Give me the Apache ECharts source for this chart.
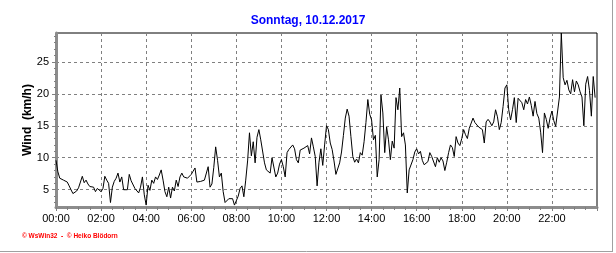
<!DOCTYPE html>
<html>
<head>
<meta charset="utf-8">
<script src="https://cdn.jsdelivr.net/npm/echarts@6/dist/echarts.min.js"></script>
<style>
html,body{margin:0;padding:0;background:#fff;}
#c{width:616px;height:253px;}
</style>
</head>
<body>
<div id="c"></div>
<script>
var titleText = 'Sonntag, 10.12.2017';
var yAxisName = 'Wind  (km/h)';
var footerText = '\u00A9 WsWin32  -  \u00A9 Heiko Blödorn';
var yTickLabels = [5, 10, 15, 20, 25];
var yMinorTicks = [3, 4, 6, 7, 8, 9, 11, 12, 13, 14, 16, 17, 18, 19, 21, 22, 23, 24, 26, 27, 28, 29];
var stepMinutes = 5;
// wind speed (km/h), one value every 5 minutes, hour by hour
var h00 = [9.6, 7.8, 6.8, 6.6, 6.5, 6.4, 6.2, 5.6, 5.0, 4.4, 4.3, 4.8];
var h01 = [5.3, 5.6, 7.1, 6.1, 6.5, 5.9, 5.5, 5.8, 5.4, 4.7, 5.2, 4.9];
var h02 = [4.7, 5.2, 7.1, 6.5, 6.0, 3.0, 5.4, 6.3, 6.8, 7.6, 6.2, 7.0];
var h03 = [5.0, 4.9, 5.0, 7.4, 6.4, 6.2, 5.2, 5.5, 4.5, 5.4, 7.0, 4.2];
var h04 = [2.6, 5.7, 4.9, 6.5, 6.0, 7.0, 6.6, 7.3, 8.1, 6.5, 4.7, 3.9];
var h05 = [5.4, 3.7, 5.4, 4.8, 6.5, 5.5, 7.0, 7.6, 7.0, 7.2, 6.8, 7.1];
var h06 = [7.4, 7.9, 8.4, 6.2, 6.5, 6.3, 6.0, 6.5, 6.2, 8.6, 5.4, 5.9];
var h07 = [8.5, 11.7, 9.6, 7.0, 7.6, 4.7, 3.0, 2.7, 3.6, 3.5, 3.6, 2.6];
var h08 = [2.3, 4.0, 5.2, 5.6, 3.9, 6.5, 9.5, 13.9, 10.3, 12.5, 9.2, 13.2];
var h09 = [14.4, 12.8, 12.5, 9.2, 8.1, 7.9, 7.6, 10.0, 10.2, 7.0, 7.6, 9.0];
var h10 = [9.7, 8.6, 7.0, 10.8, 11.3, 11.0, 12.0, 11.4, 9.7, 9.2, 11.2, 11.5];
var h11 = [11.5, 11.3, 11.9, 10.6, 13.1, 11.7, 10.2, 5.6, 9.3, 11.4, 8.8, 12.0];
var h12 = [15.0, 14.4, 12.3, 11.3, 9.5, 7.4, 7.6, 9.2, 10.9, 13.5, 16.2, 17.6];
var h13 = [16.5, 13.3, 10.2, 9.3, 9.8, 9.2, 10.8, 10.4, 12.5, 15.5, 19.1, 16.8];
var h14 = [15.9, 12.8, 13.5, 7.0, 9.7, 19.8, 17.0, 10.8, 14.8, 12.8, 9.7, 12.6];
var h15 = [11.5, 19.4, 17.5, 20.9, 13.3, 13.9, 12.0, 4.5, 8.1, 8.0, 9.7, 10.9];
var h16 = [11.4, 10.6, 11.0, 9.6, 8.9, 8.6, 9.4, 10.8, 10.2, 10.4, 8.6, 10.0];
var h17 = [9.3, 10.0, 9.5, 8.0, 9.3, 10.8, 12.0, 11.6, 10.2, 13.3, 12.3, 11.9];
var h18 = [13.0, 14.4, 13.6, 13.0, 14.6, 14.4, 16.2, 15.5, 15.2, 14.8, 15.0, 14.4];
var h19 = [12.3, 15.6, 16.0, 15.6, 15.0, 15.6, 17.5, 16.4, 14.4, 15.5, 18.0, 20.9];
var h20 = [21.4, 17.5, 15.9, 17.5, 19.4, 15.5, 19.3, 19.4, 18.6, 17.5, 19.1, 18.4];
var h21 = [19.5, 18.2, 16.5, 18.8, 16.9, 16.2, 14.0, 10.8, 17.0, 16.0, 14.6, 16.2];
var h22 = [17.3, 15.8, 14.9, 14.7, 19.5, 29.5, 22.5, 21.4, 22.1, 20.6, 20.0, 22.2];
var h23 = [20.3, 22.0, 21.4, 20.3, 19.5, 15.0, 21.5, 22.7, 20.5, 16.5, 22.7, 19.4];

var hours = [h00,h01,h02,h03,h04,h05,h06,h07,h08,h09,h10,h11,h12,h13,h14,h15,h16,h17,h18,h19,h20,h21,h22,h23];
var windValues = [].concat.apply([], hours);
var seriesData = windValues.map(function (v, i) { return [i * stepMinutes, v]; });
var yMin = Math.min.apply(null, windValues);
var yMax = Math.max.apply(null, windValues);

function pad(n){ return (n < 10 ? '0' : '') + n; }
function fmtTime(m){ return pad(Math.floor(m / 60)) + ':' + pad(m % 60); }

var chart = echarts.init(document.getElementById('c'), null, {renderer: 'canvas'});
var gridColor = '#808080';
var font = 'Liberation Sans, Arial';
chart.setOption({
  animation: false,
  backgroundColor: '#ffffff',
  title: {
    text: titleText, left: 'center', top: 10,
    textStyle: {color: '#0000ff', fontFamily: font, fontSize: 12, fontWeight: 'bold'}
  },
  grid: {left: 56, right: 19, top: 33, bottom: 46, show: true, borderColor: '#000', borderWidth: 1, backgroundColor: '#fff'},
  xAxis: {
    type: 'value', min: 0, max: 1440, interval: 120,
    axisLine: {show: true, onZero: false, lineStyle: {color: '#8c8c8c', width: 3}},
    axisTick: {show: true, length: 4, lineStyle: {color: '#808080'}},
    minorTick: {show: true, splitNumber: 4, length: 3, lineStyle: {color: '#808080'}},
    axisLabel: {formatter: function (v) { return fmtTime(v); }, color: '#000', fontFamily: font, fontSize: 11, margin: 6, showMaxLabel: false},
    splitLine: {show: true, showMinLine: false, showMaxLine: false, lineStyle: {color: gridColor, type: [3, 3], width: 1}}
  },
  yAxis: [{
    type: 'value', min: yMin, max: yMax,
    name: yAxisName, nameLocation: 'middle', nameGap: 22, nameRotate: 90, nameMoveOverlap: false,
    nameTextStyle: {color: '#000', fontFamily: font, fontSize: 12, fontWeight: 'bold'},
    axisLine: {show: true, onZero: false, lineStyle: {color: '#8c8c8c', width: 3}},
    axisTick: {show: true, length: 4, customValues: yTickLabels, lineStyle: {color: '#808080'}},
    minorTick: {show: false},
    axisLabel: {color: '#000', fontFamily: font, fontSize: 11, margin: 7, customValues: yTickLabels},
    splitLine: {show: true, lineStyle: {color: gridColor, type: [3, 3], width: 1}}
  }, {
    type: 'value', min: yMin, max: yMax, position: 'left',
    axisLine: {show: false},
    axisTick: {show: true, length: 2, customValues: yMinorTicks, lineStyle: {color: '#808080'}},
    axisLabel: {show: false},
    splitLine: {show: false}
  }],
  series: [{
    type: 'line', data: seriesData, showSymbol: false, symbol: 'none',
    lineStyle: {color: '#000', width: 1}, z: 5
  }],
  graphic: [
    {type: 'text', left: 22, top: 233, style: {text: footerText, fill: '#ff0000', font: 'bold 6.5px Liberation Sans, Arial'}},
    {type: 'line', shape: {x1: 612.5, y1: 0, x2: 612.5, y2: 252}, style: {stroke: '#a0a0a0', lineWidth: 1}},
    {type: 'line', shape: {x1: 0, y1: 251.5, x2: 613, y2: 251.5}, style: {stroke: '#a0a0a0', lineWidth: 1}}
  ]
});
</script>
</body>
</html>
